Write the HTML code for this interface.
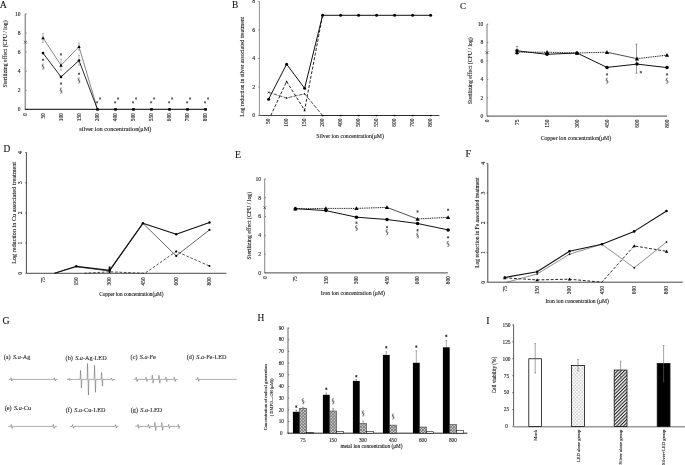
<!DOCTYPE html>
<html><head><meta charset="utf-8"><title>Figure</title>
<style>
html,body{margin:0;padding:0;background:#fff;}
body{width:685px;height:465px;overflow:hidden;}
svg{display:block;will-change:transform;}
text{font-family:"Liberation Serif", serif;stroke:#000;stroke-width:0.18px;stroke-opacity:0.55;}
</style></head>
<body>
<svg width="685" height="465" viewBox="0 0 685 465">
<defs>
<pattern id="xh" width="2.2" height="2.2" patternUnits="userSpaceOnUse" patternTransform="rotate(45)">
<rect width="2.2" height="2.2" fill="#cdcdcd"/><rect width="2.2" height="0.65" fill="#6e6e6e"/><rect width="0.65" height="2.2" fill="#6e6e6e"/>
</pattern>
<pattern id="dots" width="3.4" height="3.4" patternUnits="userSpaceOnUse">
<rect width="3.4" height="3.4" fill="#fff"/><rect x="0.5" y="0.5" width="0.9" height="0.9" fill="#666"/><rect x="2.2" y="2.2" width="0.9" height="0.9" fill="#666"/>
</pattern>
<pattern id="diag" width="2.4" height="2.4" patternUnits="userSpaceOnUse" patternTransform="rotate(45)">
<rect width="2.4" height="2.4" fill="#fff"/><rect width="1.1" height="2.4" fill="#222"/>
</pattern>
</defs>
<rect width="685" height="465" fill="#fff"/>
<text x="-0.2" y="7.6" font-size="9.8" fill="#111">A</text>
<line x1="25.3" y1="13.6" x2="25.3" y2="109.4" stroke="#9a9a9a" stroke-width="1.5"/>
<line x1="25.3" y1="109.4" x2="26.9" y2="109.4" stroke="#666" stroke-width="0.6"/>
<text x="20.6" y="111.3" font-size="5.6" text-anchor="end" fill="#222">0</text>
<line x1="25.3" y1="90.32" x2="26.9" y2="90.32" stroke="#666" stroke-width="0.6"/>
<text x="20.6" y="92.22" font-size="5.6" text-anchor="end" fill="#222">2</text>
<line x1="25.3" y1="71.24" x2="26.9" y2="71.24" stroke="#666" stroke-width="0.6"/>
<text x="20.6" y="73.14" font-size="5.6" text-anchor="end" fill="#222">4</text>
<line x1="25.3" y1="52.16" x2="26.9" y2="52.16" stroke="#666" stroke-width="0.6"/>
<text x="20.6" y="54.06" font-size="5.6" text-anchor="end" fill="#222">6</text>
<line x1="25.3" y1="33.08" x2="26.9" y2="33.08" stroke="#666" stroke-width="0.6"/>
<text x="20.6" y="34.98" font-size="5.6" text-anchor="end" fill="#222">8</text>
<line x1="25.3" y1="14" x2="26.9" y2="14" stroke="#666" stroke-width="0.6"/>
<text x="20.6" y="15.9" font-size="5.6" text-anchor="end" fill="#222">10</text>
<line x1="24.8" y1="109.4" x2="206.8" y2="109.4" stroke="#333" stroke-width="1.1"/>
<text transform="translate(27.34,113.2) rotate(-90)" font-size="5.4" text-anchor="end" fill="#222">0</text>
<text transform="translate(45.34,113.2) rotate(-90)" font-size="5.4" text-anchor="end" fill="#222">50</text>
<text transform="translate(63.34,113.2) rotate(-90)" font-size="5.4" text-anchor="end" fill="#222">100</text>
<text transform="translate(81.34,113.2) rotate(-90)" font-size="5.4" text-anchor="end" fill="#222">150</text>
<text transform="translate(99.34,113.2) rotate(-90)" font-size="5.4" text-anchor="end" fill="#222">200</text>
<text transform="translate(117.34,113.2) rotate(-90)" font-size="5.4" text-anchor="end" fill="#222">400</text>
<text transform="translate(135.34,113.2) rotate(-90)" font-size="5.4" text-anchor="end" fill="#222">500</text>
<text transform="translate(153.34,113.2) rotate(-90)" font-size="5.4" text-anchor="end" fill="#222">550</text>
<text transform="translate(171.34,113.2) rotate(-90)" font-size="5.4" text-anchor="end" fill="#222">600</text>
<text transform="translate(189.34,113.2) rotate(-90)" font-size="5.4" text-anchor="end" fill="#222">700</text>
<text transform="translate(207.34,113.2) rotate(-90)" font-size="5.4" text-anchor="end" fill="#222">800</text>
<text transform="translate(7.17,53.9) rotate(-90)" font-size="5.8" text-anchor="middle" fill="#222">Sterilizing effect (CFU / log)</text>
<text x="115.3" y="131.12" font-size="6.25" text-anchor="middle" fill="#222">silver ion concentration(μM)</text>
<line x1="24.1" y1="40.8" x2="26.9" y2="43.6" stroke="#222" stroke-width="0.6"/>
<line x1="24.1" y1="43.6" x2="26.9" y2="40.8" stroke="#222" stroke-width="0.6"/>
<polyline points="43,37.9 61,65.3 79,46.7 97.5,109.4" fill="none" stroke="#555" stroke-width="0.7" stroke-linejoin="round"/>
<polyline points="43,53.1 61,76.9 79,60.5 97.5,109.4" fill="none" stroke="#111" stroke-width="0.9" stroke-linejoin="round"/>
<line x1="43" y1="33.4" x2="43" y2="42.4" stroke="#777" stroke-width="0.5"/>
<line x1="42" y1="33.4" x2="44" y2="33.4" stroke="#777" stroke-width="0.5"/>
<line x1="42" y1="42.4" x2="44" y2="42.4" stroke="#777" stroke-width="0.5"/>
<line x1="61" y1="59.2" x2="61" y2="70.2" stroke="#777" stroke-width="0.5"/>
<line x1="60" y1="59.2" x2="62" y2="59.2" stroke="#777" stroke-width="0.5"/>
<line x1="60" y1="70.2" x2="62" y2="70.2" stroke="#777" stroke-width="0.5"/>
<line x1="79" y1="43.2" x2="79" y2="50" stroke="#777" stroke-width="0.5"/>
<line x1="78" y1="43.2" x2="80" y2="43.2" stroke="#777" stroke-width="0.5"/>
<line x1="78" y1="50" x2="80" y2="50" stroke="#777" stroke-width="0.5"/>
<line x1="79" y1="55.3" x2="79" y2="65" stroke="#777" stroke-width="0.5"/>
<line x1="78" y1="55.3" x2="80" y2="55.3" stroke="#777" stroke-width="0.5"/>
<line x1="78" y1="65" x2="80" y2="65" stroke="#777" stroke-width="0.5"/>
<path d="M43,36.2L44.7,39.26L41.3,39.26Z" fill="#000"/>
<path d="M61,63.6L62.7,66.66L59.3,66.66Z" fill="#000"/>
<path d="M79,45L80.7,48.06L77.3,48.06Z" fill="#000"/>
<circle cx="43" cy="53.1" r="1.35" fill="#000"/>
<circle cx="61" cy="76.9" r="1.35" fill="#000"/>
<circle cx="79" cy="60.5" r="1.35" fill="#000"/>
<rect x="96.2" y="108.1" width="2.6" height="2.6" fill="#000"/>
<rect x="114.2" y="108.1" width="2.6" height="2.6" fill="#000"/>
<rect x="132.2" y="108.1" width="2.6" height="2.6" fill="#000"/>
<rect x="150.2" y="108.1" width="2.6" height="2.6" fill="#000"/>
<rect x="168.2" y="108.1" width="2.6" height="2.6" fill="#000"/>
<rect x="186.2" y="108.1" width="2.6" height="2.6" fill="#000"/>
<rect x="204.2" y="108.1" width="2.6" height="2.6" fill="#000"/>
<path d="M43,58.54L43,61.06M41.91,59.17L44.09,60.43M41.91,60.43L44.09,59.17" stroke="#444" stroke-width="0.75" fill="none"/>
<path d="M43.9,64.3C43.3,63.8 42,64 42.1,65C42.2,65.9 44,66.1 44,67.1C44,67.7 43.3,67.9 42.8,67.6M42.1,68.9C42.7,69.4 44,69.2 43.9,68.2C43.8,67.3 42,67.1 42,66.1C42,65.5 42.7,65.3 43.2,65.6" fill="none" stroke="#333" stroke-width="0.6"/>
<path d="M61,53.14L61,55.66M59.91,53.77L62.09,55.03M59.91,55.03L62.09,53.77" stroke="#444" stroke-width="0.75" fill="none"/>
<path d="M61,82.34L61,84.86M59.91,82.97L62.09,84.23M59.91,84.23L62.09,82.97" stroke="#444" stroke-width="0.75" fill="none"/>
<path d="M61.9,88.4C61.3,87.9 60,88.1 60.1,89.1C60.2,90 62,90.2 62,91.2C62,91.8 61.3,92 60.8,91.7M60.1,93C60.7,93.5 62,93.3 61.9,92.3C61.8,91.4 60,91.2 60,90.2C60,89.6 60.7,89.4 61.2,89.7" fill="none" stroke="#333" stroke-width="0.6"/>
<path d="M79,72.54L79,75.06M77.91,73.17L80.09,74.43M77.91,74.43L80.09,73.17" stroke="#444" stroke-width="0.75" fill="none"/>
<path d="M79.9,78.2C79.3,77.7 78,77.9 78.1,78.9C78.2,79.8 80,80 80,81C80,81.6 79.3,81.8 78.8,81.5M78.1,82.8C78.7,83.3 80,83.1 79.9,82.1C79.8,81.2 78,81 78,80C78,79.4 78.7,79.2 79.2,79.5" fill="none" stroke="#333" stroke-width="0.6"/>
<path d="M97.1,101.07L97.1,103.53M96.03,101.68L98.17,102.92M96.03,102.92L98.17,101.68" stroke="#555" stroke-width="0.75" fill="none"/>
<path d="M100.1,97.27L100.1,99.73M99.03,97.88L101.17,99.12M99.03,99.12L101.17,97.88" stroke="#555" stroke-width="0.75" fill="none"/>
<path d="M115.1,101.07L115.1,103.53M114.03,101.68L116.17,102.92M114.03,102.92L116.17,101.68" stroke="#555" stroke-width="0.75" fill="none"/>
<path d="M118.1,97.27L118.1,99.73M117.03,97.88L119.17,99.12M117.03,99.12L119.17,97.88" stroke="#555" stroke-width="0.75" fill="none"/>
<path d="M133.1,101.07L133.1,103.53M132.03,101.68L134.17,102.92M132.03,102.92L134.17,101.68" stroke="#555" stroke-width="0.75" fill="none"/>
<path d="M136.1,97.27L136.1,99.73M135.03,97.88L137.17,99.12M135.03,99.12L137.17,97.88" stroke="#555" stroke-width="0.75" fill="none"/>
<path d="M151.1,101.07L151.1,103.53M150.03,101.68L152.17,102.92M150.03,102.92L152.17,101.68" stroke="#555" stroke-width="0.75" fill="none"/>
<path d="M154.1,97.27L154.1,99.73M153.03,97.88L155.17,99.12M153.03,99.12L155.17,97.88" stroke="#555" stroke-width="0.75" fill="none"/>
<path d="M169.1,101.07L169.1,103.53M168.03,101.68L170.17,102.92M168.03,102.92L170.17,101.68" stroke="#555" stroke-width="0.75" fill="none"/>
<path d="M172.1,97.27L172.1,99.73M171.03,97.88L173.17,99.12M171.03,99.12L173.17,97.88" stroke="#555" stroke-width="0.75" fill="none"/>
<path d="M187.1,101.07L187.1,103.53M186.03,101.68L188.17,102.92M186.03,102.92L188.17,101.68" stroke="#555" stroke-width="0.75" fill="none"/>
<path d="M190.1,97.27L190.1,99.73M189.03,97.88L191.17,99.12M189.03,99.12L191.17,97.88" stroke="#555" stroke-width="0.75" fill="none"/>
<path d="M205.1,101.07L205.1,103.53M204.03,101.68L206.17,102.92M204.03,102.92L206.17,101.68" stroke="#555" stroke-width="0.75" fill="none"/>
<path d="M208.1,97.27L208.1,99.73M207.03,97.88L209.17,99.12M207.03,99.12L209.17,97.88" stroke="#555" stroke-width="0.75" fill="none"/>
<text x="232.1" y="7.8" font-size="9.4" fill="#111">B</text>
<line x1="259.4" y1="1.5" x2="259.4" y2="115.5" stroke="#777" stroke-width="0.8"/>
<line x1="258.1" y1="115.5" x2="259.4" y2="115.5" stroke="#555" stroke-width="0.6"/>
<text x="253.6" y="117.47" font-size="5.8" text-anchor="middle" fill="#222">0</text>
<line x1="258.1" y1="87" x2="259.4" y2="87" stroke="#555" stroke-width="0.6"/>
<text x="253.6" y="88.97" font-size="5.8" text-anchor="middle" fill="#222">2</text>
<line x1="258.1" y1="58.5" x2="259.4" y2="58.5" stroke="#555" stroke-width="0.6"/>
<text x="253.6" y="60.47" font-size="5.8" text-anchor="middle" fill="#222">4</text>
<line x1="258.1" y1="30" x2="259.4" y2="30" stroke="#555" stroke-width="0.6"/>
<text x="253.6" y="31.97" font-size="5.8" text-anchor="middle" fill="#222">6</text>
<line x1="258.1" y1="1.5" x2="259.4" y2="1.5" stroke="#555" stroke-width="0.6"/>
<text x="253.6" y="3.47" font-size="5.8" text-anchor="middle" fill="#222">8</text>
<line x1="259.4" y1="115.5" x2="439.5" y2="115.5" stroke="#333" stroke-width="0.9"/>
<line x1="268.6" y1="115.5" x2="268.6" y2="116.7" stroke="#555" stroke-width="0.5"/>
<text transform="translate(270.44,118.6) rotate(-90)" font-size="5.4" text-anchor="end" fill="#222">50</text>
<line x1="286.6" y1="115.5" x2="286.6" y2="116.7" stroke="#555" stroke-width="0.5"/>
<text transform="translate(288.44,118.6) rotate(-90)" font-size="5.4" text-anchor="end" fill="#222">100</text>
<line x1="304.6" y1="115.5" x2="304.6" y2="116.7" stroke="#555" stroke-width="0.5"/>
<text transform="translate(306.44,118.6) rotate(-90)" font-size="5.4" text-anchor="end" fill="#222">150</text>
<line x1="322.6" y1="115.5" x2="322.6" y2="116.7" stroke="#555" stroke-width="0.5"/>
<text transform="translate(324.44,118.6) rotate(-90)" font-size="5.4" text-anchor="end" fill="#222">200</text>
<line x1="340.6" y1="115.5" x2="340.6" y2="116.7" stroke="#555" stroke-width="0.5"/>
<text transform="translate(342.44,118.6) rotate(-90)" font-size="5.4" text-anchor="end" fill="#222">400</text>
<line x1="358.6" y1="115.5" x2="358.6" y2="116.7" stroke="#555" stroke-width="0.5"/>
<text transform="translate(360.44,118.6) rotate(-90)" font-size="5.4" text-anchor="end" fill="#222">500</text>
<line x1="376.6" y1="115.5" x2="376.6" y2="116.7" stroke="#555" stroke-width="0.5"/>
<text transform="translate(378.44,118.6) rotate(-90)" font-size="5.4" text-anchor="end" fill="#222">550</text>
<line x1="394.6" y1="115.5" x2="394.6" y2="116.7" stroke="#555" stroke-width="0.5"/>
<text transform="translate(396.44,118.6) rotate(-90)" font-size="5.4" text-anchor="end" fill="#222">600</text>
<line x1="412.6" y1="115.5" x2="412.6" y2="116.7" stroke="#555" stroke-width="0.5"/>
<text transform="translate(414.44,118.6) rotate(-90)" font-size="5.4" text-anchor="end" fill="#222">700</text>
<line x1="430.6" y1="115.5" x2="430.6" y2="116.7" stroke="#555" stroke-width="0.5"/>
<text transform="translate(432.44,118.6) rotate(-90)" font-size="5.4" text-anchor="end" fill="#222">800</text>
<text transform="translate(243.74,66.8) rotate(-90)" font-size="5.71" text-anchor="middle" fill="#222">Log reduction in silver associated treatment</text>
<text x="350.1" y="138.06" font-size="5.77" text-anchor="middle" fill="#222">Silver ion concentration(μM)</text>
<polyline points="268.6,92.4 286.6,98 304.6,93.8 322.6,115.5" fill="none" stroke="#222" stroke-width="0.75" stroke-linejoin="round" stroke-dasharray="4,1.2"/>
<polyline points="322.6,115.5 340.6,115.5 358.6,115.5 376.6,115.5 394.6,115.5 412.6,115.5 430.6,115.5" fill="none" stroke="#222" stroke-width="0.8" stroke-linejoin="round"/>
<polyline points="270.8,115.5 286.6,81.5 304.6,110.2 322.6,15.3" fill="none" stroke="#111" stroke-width="0.9" stroke-linejoin="round" stroke-dasharray="3,1.7"/>
<polyline points="268.6,99.2 286.6,64.2 304.6,88.3 322.6,15.3 340.6,15.3 358.6,15.3 376.6,15.3 394.6,15.3 412.6,15.3 430.6,15.3" fill="none" stroke="#111" stroke-width="1" stroke-linejoin="round"/>
<circle cx="268.6" cy="99.2" r="1.5" fill="#000"/>
<circle cx="286.6" cy="64.2" r="1.5" fill="#000"/>
<circle cx="304.6" cy="88.3" r="1.5" fill="#000"/>
<circle cx="322.6" cy="15.3" r="1.5" fill="#000"/>
<circle cx="340.6" cy="15.3" r="1.5" fill="#000"/>
<circle cx="358.6" cy="15.3" r="1.5" fill="#000"/>
<circle cx="376.6" cy="15.3" r="1.5" fill="#000"/>
<circle cx="394.6" cy="15.3" r="1.5" fill="#000"/>
<circle cx="412.6" cy="15.3" r="1.5" fill="#000"/>
<circle cx="430.6" cy="15.3" r="1.5" fill="#000"/>
<path d="M286.6,80.3L287.8,82.46L285.4,82.46Z" fill="#000"/>
<path d="M304.6,109L305.8,111.16L303.4,111.16Z" fill="#000"/>
<path d="M286.6,97L287.6,98.8L285.6,98.8Z" fill="#000"/>
<path d="M304.6,92.8L305.6,94.6L303.6,94.6Z" fill="#000"/>
<line x1="267.6" y1="91.4" x2="269.6" y2="93.4" stroke="#111" stroke-width="0.6"/>
<line x1="267.6" y1="93.4" x2="269.6" y2="91.4" stroke="#111" stroke-width="0.6"/>
<line x1="321.6" y1="115.5" x2="323.6" y2="115.5" stroke="#000" stroke-width="1.2"/>
<line x1="339.6" y1="115.5" x2="341.6" y2="115.5" stroke="#000" stroke-width="1.2"/>
<line x1="357.6" y1="115.5" x2="359.6" y2="115.5" stroke="#000" stroke-width="1.2"/>
<line x1="375.6" y1="115.5" x2="377.6" y2="115.5" stroke="#000" stroke-width="1.2"/>
<line x1="393.6" y1="115.5" x2="395.6" y2="115.5" stroke="#000" stroke-width="1.2"/>
<line x1="411.6" y1="115.5" x2="413.6" y2="115.5" stroke="#000" stroke-width="1.2"/>
<line x1="429.6" y1="115.5" x2="431.6" y2="115.5" stroke="#000" stroke-width="1.2"/>
<text x="459.9" y="8.7" font-size="9.1" fill="#111">C</text>
<line x1="487" y1="24" x2="487" y2="116.1" stroke="#555" stroke-width="0.8"/>
<line x1="487" y1="116.1" x2="488.3" y2="116.1" stroke="#555" stroke-width="0.6"/>
<text x="483.4" y="118" font-size="5.6" text-anchor="end" fill="#222">0</text>
<line x1="487" y1="97.7" x2="488.3" y2="97.7" stroke="#555" stroke-width="0.6"/>
<text x="483.4" y="99.6" font-size="5.6" text-anchor="end" fill="#222">2</text>
<line x1="487" y1="79.3" x2="488.3" y2="79.3" stroke="#555" stroke-width="0.6"/>
<text x="483.4" y="81.2" font-size="5.6" text-anchor="end" fill="#222">4</text>
<line x1="487" y1="60.9" x2="488.3" y2="60.9" stroke="#555" stroke-width="0.6"/>
<text x="483.4" y="62.8" font-size="5.6" text-anchor="end" fill="#222">6</text>
<line x1="487" y1="42.5" x2="488.3" y2="42.5" stroke="#555" stroke-width="0.6"/>
<text x="483.4" y="44.4" font-size="5.6" text-anchor="end" fill="#222">8</text>
<line x1="487" y1="24.1" x2="488.3" y2="24.1" stroke="#555" stroke-width="0.6"/>
<text x="483.4" y="26" font-size="5.6" text-anchor="end" fill="#222">10</text>
<line x1="487" y1="116.1" x2="667" y2="116.1" stroke="#333" stroke-width="0.9"/>
<text transform="translate(488.84,119.6) rotate(-90)" font-size="5.4" text-anchor="end" fill="#222">0</text>
<text transform="translate(518.84,119.6) rotate(-90)" font-size="5.4" text-anchor="end" fill="#222">75</text>
<text transform="translate(548.84,119.6) rotate(-90)" font-size="5.4" text-anchor="end" fill="#222">150</text>
<text transform="translate(578.84,119.6) rotate(-90)" font-size="5.4" text-anchor="end" fill="#222">300</text>
<text transform="translate(608.84,119.6) rotate(-90)" font-size="5.4" text-anchor="end" fill="#222">450</text>
<text transform="translate(638.84,119.6) rotate(-90)" font-size="5.4" text-anchor="end" fill="#222">600</text>
<text transform="translate(668.84,119.6) rotate(-90)" font-size="5.4" text-anchor="end" fill="#222">800</text>
<text transform="translate(471.57,70.75) rotate(-90)" font-size="5.79" text-anchor="middle" fill="#222">Sterilizing effect (CFU / log)</text>
<text x="575.9" y="139.96" font-size="5.76" text-anchor="middle" fill="#222">Copper ion concentration(μM)</text>
<line x1="485.6" y1="51.3" x2="488.4" y2="54.1" stroke="#222" stroke-width="0.6"/>
<line x1="485.6" y1="54.1" x2="488.4" y2="51.3" stroke="#222" stroke-width="0.6"/>
<line x1="517" y1="46.4" x2="517" y2="54.6" stroke="#444" stroke-width="0.5"/>
<line x1="516" y1="46.4" x2="518" y2="46.4" stroke="#444" stroke-width="0.5"/>
<line x1="516" y1="54.6" x2="518" y2="54.6" stroke="#444" stroke-width="0.5"/>
<line x1="636.5" y1="44.1" x2="636.5" y2="73.2" stroke="#555" stroke-width="0.6"/>
<line x1="635.5" y1="44.1" x2="637.5" y2="44.1" stroke="#555" stroke-width="0.6"/>
<line x1="635.5" y1="73.2" x2="637.5" y2="73.2" stroke="#555" stroke-width="0.6"/>
<polyline points="517,50.8 547,54.3 577,53 607,67.4 637,64.1 667,67.6" fill="none" stroke="#111" stroke-width="1" stroke-linejoin="round"/>
<polyline points="517,52.2 547,52.2 577,53 607,52.2" fill="none" stroke="#111" stroke-width="1" stroke-linejoin="round" stroke-dasharray="1,0.8"/>
<polyline points="607,52.2 637,58.7" fill="none" stroke="#222" stroke-width="0.8" stroke-linejoin="round"/>
<polyline points="637,58.7 667,55.1" fill="none" stroke="#111" stroke-width="1" stroke-linejoin="round" stroke-dasharray="1,0.8"/>
<circle cx="517" cy="50.8" r="1.75" fill="#000"/>
<circle cx="547" cy="54.3" r="1.75" fill="#000"/>
<circle cx="577" cy="53" r="1.75" fill="#000"/>
<circle cx="607" cy="67.4" r="1.75" fill="#000"/>
<circle cx="637" cy="64.1" r="1.75" fill="#000"/>
<circle cx="667" cy="67.6" r="1.75" fill="#000"/>
<path d="M517,50.1L519.1,53.88L514.9,53.88Z" fill="#000"/>
<path d="M547,50.1L549.1,53.88L544.9,53.88Z" fill="#000"/>
<path d="M577,50.9L579.1,54.68L574.9,54.68Z" fill="#000"/>
<path d="M607,50.1L609.1,53.88L604.9,53.88Z" fill="#000"/>
<path d="M637,56.6L639.1,60.38L634.9,60.38Z" fill="#000"/>
<path d="M667,53L669.1,56.78L664.9,56.78Z" fill="#000"/>
<path d="M607,73.14L607,75.66M605.91,73.77L608.09,75.03M605.91,75.03L608.09,73.77" stroke="#444" stroke-width="0.75" fill="none"/>
<path d="M607.9,78.5C607.3,78 606,78.2 606.1,79.2C606.2,80.1 608,80.3 608,81.3C608,81.9 607.3,82.1 606.8,81.8M606.1,83.1C606.7,83.6 608,83.4 607.9,82.4C607.8,81.5 606,81.3 606,80.3C606,79.7 606.7,79.5 607.2,79.8" fill="none" stroke="#333" stroke-width="0.6"/>
<path d="M640.8,70.84L640.8,73.36M639.71,71.47L641.89,72.73M639.71,72.73L641.89,71.47" stroke="#444" stroke-width="0.75" fill="none"/>
<path d="M667,73.14L667,75.66M665.91,73.77L668.09,75.03M665.91,75.03L668.09,73.77" stroke="#444" stroke-width="0.75" fill="none"/>
<path d="M667.9,78.5C667.3,78 666,78.2 666.1,79.2C666.2,80.1 668,80.3 668,81.3C668,81.9 667.3,82.1 666.8,81.8M666.1,83.1C666.7,83.6 668,83.4 667.9,82.4C667.8,81.5 666,81.3 666,80.3C666,79.7 666.7,79.5 667.2,79.8" fill="none" stroke="#333" stroke-width="0.6"/>
<text x="3.5" y="152.4" font-size="9.4" fill="#111">D</text>
<line x1="26.4" y1="152.4" x2="26.4" y2="273.3" stroke="#333" stroke-width="0.9"/>
<line x1="25.1" y1="273.3" x2="26.4" y2="273.3" stroke="#333" stroke-width="0.6"/>
<text transform="translate(22.27,273.3) rotate(-90)" font-size="5.8" text-anchor="middle" fill="#111">0</text>
<line x1="25.1" y1="243.1" x2="26.4" y2="243.1" stroke="#333" stroke-width="0.6"/>
<text transform="translate(22.27,243.1) rotate(-90)" font-size="5.8" text-anchor="middle" fill="#111">1</text>
<line x1="25.1" y1="212.9" x2="26.4" y2="212.9" stroke="#333" stroke-width="0.6"/>
<text transform="translate(22.27,212.9) rotate(-90)" font-size="5.8" text-anchor="middle" fill="#111">2</text>
<line x1="25.1" y1="182.7" x2="26.4" y2="182.7" stroke="#333" stroke-width="0.6"/>
<text transform="translate(22.27,182.7) rotate(-90)" font-size="5.8" text-anchor="middle" fill="#111">3</text>
<line x1="25.1" y1="152.5" x2="26.4" y2="152.5" stroke="#333" stroke-width="0.6"/>
<text transform="translate(22.27,152.5) rotate(-90)" font-size="5.8" text-anchor="middle" fill="#111">4</text>
<line x1="26.4" y1="273.3" x2="226.4" y2="273.3" stroke="#333" stroke-width="0.9"/>
<text transform="translate(44.84,277.3) rotate(-90)" font-size="5.4" text-anchor="end" fill="#222">75</text>
<text transform="translate(78.14,277.3) rotate(-90)" font-size="5.4" text-anchor="end" fill="#222">150</text>
<text transform="translate(111.44,277.3) rotate(-90)" font-size="5.4" text-anchor="end" fill="#222">300</text>
<text transform="translate(144.74,277.3) rotate(-90)" font-size="5.4" text-anchor="end" fill="#222">450</text>
<text transform="translate(178.04,277.3) rotate(-90)" font-size="5.4" text-anchor="end" fill="#222">600</text>
<text transform="translate(211.34,277.3) rotate(-90)" font-size="5.4" text-anchor="end" fill="#222">800</text>
<text transform="translate(16.11,212.9) rotate(-90)" font-size="6.2" text-anchor="middle" fill="#222">Log reduction in Cu associated treatment</text>
<text x="131.3" y="296.49" font-size="5.25" text-anchor="middle" fill="#222">Copper ion concentration(μM)</text>
<polyline points="84.3,273.3 109.6,271.8 144.9,273.3 176.2,251.4 209.5,266" fill="none" stroke="#222" stroke-width="0.8" stroke-linejoin="round" stroke-dasharray="2.6,1.8"/>
<polyline points="54.5,273.3 76.3,266.8 109.6,271 142.9,223.3 176.2,255.9 209.5,229.9" fill="none" stroke="#222" stroke-width="0.7" stroke-linejoin="round"/>
<polyline points="54.5,273.3 76.3,266.3 109.6,270.3 142.9,223.3 176.2,234.3 209.5,222.5" fill="none" stroke="#111" stroke-width="1.2" stroke-linejoin="round"/>
<circle cx="76.3" cy="266.3" r="1.2" fill="#000"/>
<circle cx="109.6" cy="270.3" r="1.2" fill="#000"/>
<circle cx="142.9" cy="223.3" r="1.2" fill="#000"/>
<circle cx="176.2" cy="234.3" r="1.2" fill="#000"/>
<circle cx="209.5" cy="222.5" r="1.2" fill="#000"/>
<circle cx="176.2" cy="255.9" r="1.1" fill="#000"/>
<circle cx="209.5" cy="229.9" r="1.1" fill="#000"/>
<path d="M176.2,250.1L177.5,251.4L176.2,252.7L174.9,251.4Z" fill="#000"/>
<circle cx="209.5" cy="266" r="1" fill="#000"/>
<rect x="108.7" y="266.5" width="1.8" height="6.5" fill="#000"/>
<text x="235.1" y="157.5" font-size="9.8" fill="#111">E</text>
<line x1="264.7" y1="178.8" x2="264.7" y2="272.9" stroke="#666" stroke-width="0.8"/>
<line x1="264.7" y1="272.9" x2="266" y2="272.9" stroke="#555" stroke-width="0.6"/>
<text x="261" y="274.8" font-size="5.6" text-anchor="end" fill="#222">0</text>
<line x1="264.7" y1="254.1" x2="266" y2="254.1" stroke="#555" stroke-width="0.6"/>
<text x="261" y="256" font-size="5.6" text-anchor="end" fill="#222">2</text>
<line x1="264.7" y1="235.3" x2="266" y2="235.3" stroke="#555" stroke-width="0.6"/>
<text x="261" y="237.2" font-size="5.6" text-anchor="end" fill="#222">4</text>
<line x1="264.7" y1="216.5" x2="266" y2="216.5" stroke="#555" stroke-width="0.6"/>
<text x="261" y="218.4" font-size="5.6" text-anchor="end" fill="#222">6</text>
<line x1="264.7" y1="197.7" x2="266" y2="197.7" stroke="#555" stroke-width="0.6"/>
<text x="261" y="199.6" font-size="5.6" text-anchor="end" fill="#222">8</text>
<line x1="264.7" y1="178.9" x2="266" y2="178.9" stroke="#555" stroke-width="0.6"/>
<text x="261" y="180.8" font-size="5.6" text-anchor="end" fill="#222">10</text>
<line x1="264.7" y1="272.9" x2="447.9" y2="272.9" stroke="#333" stroke-width="0.9"/>
<text transform="translate(266.64,276.2) rotate(-90)" font-size="5.4" text-anchor="end" fill="#222">0</text>
<text transform="translate(297.19,276.2) rotate(-90)" font-size="5.4" text-anchor="end" fill="#222">75</text>
<text transform="translate(327.74,276.2) rotate(-90)" font-size="5.4" text-anchor="end" fill="#222">150</text>
<text transform="translate(358.29,276.2) rotate(-90)" font-size="5.4" text-anchor="end" fill="#222">300</text>
<text transform="translate(388.84,276.2) rotate(-90)" font-size="5.4" text-anchor="end" fill="#222">450</text>
<text transform="translate(419.39,276.2) rotate(-90)" font-size="5.4" text-anchor="end" fill="#222">600</text>
<text transform="translate(449.94,276.2) rotate(-90)" font-size="5.4" text-anchor="end" fill="#222">800</text>
<text transform="translate(250.68,225.6) rotate(-90)" font-size="5.83" text-anchor="middle" fill="#222">Sterilizing effect (CFU / log)</text>
<text x="352.8" y="294.64" font-size="5.72" text-anchor="middle" fill="#222">Iron ion concentration (μM)</text>
<line x1="263.3" y1="206.3" x2="266.1" y2="209.1" stroke="#222" stroke-width="0.6"/>
<line x1="263.3" y1="209.1" x2="266.1" y2="206.3" stroke="#222" stroke-width="0.6"/>
<polyline points="295.35,208.7 325.9,210.6 356.45,217.2 387,219.5 417.55,223.5 448.1,229.9" fill="none" stroke="#111" stroke-width="1" stroke-linejoin="round"/>
<polyline points="295.35,208.7 325.9,208.4 356.45,208.4 387,207.4" fill="none" stroke="#111" stroke-width="1" stroke-linejoin="round" stroke-dasharray="1,0.8"/>
<polyline points="387,207.4 417.55,219" fill="none" stroke="#222" stroke-width="0.8" stroke-linejoin="round"/>
<polyline points="417.55,219 448.1,217.3" fill="none" stroke="#111" stroke-width="1" stroke-linejoin="round" stroke-dasharray="1,0.8"/>
<circle cx="295.35" cy="208.7" r="1.75" fill="#000"/>
<circle cx="325.9" cy="210.6" r="1.75" fill="#000"/>
<circle cx="356.45" cy="217.2" r="1.75" fill="#000"/>
<circle cx="387" cy="219.5" r="1.75" fill="#000"/>
<circle cx="417.55" cy="223.5" r="1.75" fill="#000"/>
<circle cx="448.1" cy="229.9" r="1.75" fill="#000"/>
<path d="M295.35,206.6L297.45,210.38L293.25,210.38Z" fill="#000"/>
<path d="M325.9,206.3L328,210.08L323.8,210.08Z" fill="#000"/>
<path d="M356.45,206.3L358.55,210.08L354.35,210.08Z" fill="#000"/>
<path d="M387,205.3L389.1,209.08L384.9,209.08Z" fill="#000"/>
<path d="M417.55,216.9L419.65,220.68L415.45,220.68Z" fill="#000"/>
<path d="M448.1,215.2L450.2,218.98L446,218.98Z" fill="#000"/>
<path d="M356.45,221.44L356.45,223.96M355.36,222.07L357.54,223.33M355.36,223.33L357.54,222.07" stroke="#444" stroke-width="0.75" fill="none"/>
<path d="M357.35,225.7C356.75,225.2 355.45,225.4 355.55,226.4C355.65,227.3 357.45,227.5 357.45,228.5C357.45,229.1 356.75,229.3 356.25,229M355.55,230.3C356.15,230.8 357.45,230.6 357.35,229.6C357.25,228.7 355.45,228.5 355.45,227.5C355.45,226.9 356.15,226.7 356.65,227" fill="none" stroke="#333" stroke-width="0.6"/>
<path d="M387,225.94L387,228.46M385.91,226.57L388.09,227.83M385.91,227.83L388.09,226.57" stroke="#444" stroke-width="0.75" fill="none"/>
<path d="M387.9,229.9C387.3,229.4 386,229.6 386.1,230.6C386.2,231.5 388,231.7 388,232.7C388,233.3 387.3,233.5 386.8,233.2M386.1,234.5C386.7,235 388,234.8 387.9,233.8C387.8,232.9 386,232.7 386,231.7C386,231.1 386.7,230.9 387.2,231.2" fill="none" stroke="#333" stroke-width="0.6"/>
<path d="M417.55,210.24L417.55,212.76M416.46,210.87L418.64,212.13M416.46,212.13L418.64,210.87" stroke="#444" stroke-width="0.75" fill="none"/>
<path d="M417.55,229.04L417.55,231.56M416.46,229.67L418.64,230.93M416.46,230.93L418.64,229.67" stroke="#444" stroke-width="0.75" fill="none"/>
<path d="M418.45,233.2C417.85,232.7 416.55,232.9 416.65,233.9C416.75,234.8 418.55,235 418.55,236C418.55,236.6 417.85,236.8 417.35,236.5M416.65,237.8C417.25,238.3 418.55,238.1 418.45,237.1C418.35,236.2 416.55,236 416.55,235C416.55,234.4 417.25,234.2 417.75,234.5" fill="none" stroke="#333" stroke-width="0.6"/>
<path d="M448.1,208.54L448.1,211.06M447.01,209.17L449.19,210.43M447.01,210.43L449.19,209.17" stroke="#444" stroke-width="0.75" fill="none"/>
<path d="M448.1,236.04L448.1,238.56M447.01,236.67L449.19,237.93M447.01,237.93L449.19,236.67" stroke="#444" stroke-width="0.75" fill="none"/>
<path d="M449,241.6C448.4,241.1 447.1,241.3 447.2,242.3C447.3,243.2 449.1,243.4 449.1,244.4C449.1,245 448.4,245.2 447.9,244.9M447.2,246.2C447.8,246.7 449.1,246.5 449,245.5C448.9,244.6 447.1,244.4 447.1,243.4C447.1,242.8 447.8,242.6 448.3,242.9" fill="none" stroke="#333" stroke-width="0.6"/>
<text x="465.4" y="156.5" font-size="10" fill="#111">F</text>
<line x1="487.8" y1="163.3" x2="487.8" y2="282.2" stroke="#333" stroke-width="0.9"/>
<line x1="486.5" y1="282.2" x2="487.8" y2="282.2" stroke="#333" stroke-width="0.6"/>
<text transform="translate(484.97,282.2) rotate(-90)" font-size="5.8" text-anchor="middle" fill="#111">0</text>
<line x1="486.5" y1="252.5" x2="487.8" y2="252.5" stroke="#333" stroke-width="0.6"/>
<text transform="translate(484.97,252.5) rotate(-90)" font-size="5.8" text-anchor="middle" fill="#111">1</text>
<line x1="486.5" y1="222.8" x2="487.8" y2="222.8" stroke="#333" stroke-width="0.6"/>
<text transform="translate(484.97,222.8) rotate(-90)" font-size="5.8" text-anchor="middle" fill="#111">2</text>
<line x1="486.5" y1="193.1" x2="487.8" y2="193.1" stroke="#333" stroke-width="0.6"/>
<text transform="translate(484.97,193.1) rotate(-90)" font-size="5.8" text-anchor="middle" fill="#111">3</text>
<line x1="486.5" y1="163.4" x2="487.8" y2="163.4" stroke="#333" stroke-width="0.6"/>
<text transform="translate(484.97,163.4) rotate(-90)" font-size="5.8" text-anchor="middle" fill="#111">4</text>
<line x1="487.8" y1="282.2" x2="682.8" y2="282.2" stroke="#333" stroke-width="0.9"/>
<text transform="translate(506.64,286.1) rotate(-90)" font-size="5.4" text-anchor="end" fill="#222">75</text>
<text transform="translate(538.99,286.1) rotate(-90)" font-size="5.4" text-anchor="end" fill="#222">150</text>
<text transform="translate(571.34,286.1) rotate(-90)" font-size="5.4" text-anchor="end" fill="#222">300</text>
<text transform="translate(603.69,286.1) rotate(-90)" font-size="5.4" text-anchor="end" fill="#222">450</text>
<text transform="translate(636.04,286.1) rotate(-90)" font-size="5.4" text-anchor="end" fill="#222">600</text>
<text transform="translate(668.39,286.1) rotate(-90)" font-size="5.4" text-anchor="end" fill="#222">800</text>
<text transform="translate(479.49,222.6) rotate(-90)" font-size="5.55" text-anchor="middle" fill="#222">Log reduction in Fe associated treatment</text>
<text x="577.2" y="302.63" font-size="5.67" text-anchor="middle" fill="#222">Iron ion concentration (μM)</text>
<polyline points="504.8,277.8 537.15,279.9 569.5,279.2 601.85,282.2 634.2,245.9 666.55,251.3" fill="none" stroke="#111" stroke-width="0.9" stroke-linejoin="round" stroke-dasharray="2.8,1.8"/>
<polyline points="506.8,282.2 537.15,274 569.5,254.2 601.85,244.2 634.2,267.8 666.55,242" fill="none" stroke="#444" stroke-width="0.6" stroke-linejoin="round"/>
<polyline points="504.8,277.5 537.15,271.7 569.5,251.2 601.85,244.2 634.2,231.4 666.55,211" fill="none" stroke="#111" stroke-width="1.1" stroke-linejoin="round"/>
<circle cx="504.8" cy="277.5" r="1.3" fill="#000"/>
<circle cx="537.15" cy="271.7" r="1.3" fill="#000"/>
<circle cx="569.5" cy="251.2" r="1.3" fill="#000"/>
<circle cx="601.85" cy="244.2" r="1.3" fill="#000"/>
<circle cx="634.2" cy="231.4" r="1.3" fill="#000"/>
<circle cx="666.55" cy="211" r="1.3" fill="#000"/>
<path d="M537.15,272.9L538.25,274L537.15,275.1L536.05,274Z" fill="#000"/>
<path d="M569.5,253.1L570.6,254.2L569.5,255.3L568.4,254.2Z" fill="#000"/>
<path d="M601.85,243.1L602.95,244.2L601.85,245.3L600.75,244.2Z" fill="#000"/>
<path d="M634.2,266.7L635.3,267.8L634.2,268.9L633.1,267.8Z" fill="#000"/>
<path d="M666.55,240.9L667.65,242L666.55,243.1L665.45,242Z" fill="#000"/>
<path d="M504.8,276.1L506.5,279.16L503.1,279.16Z" fill="#000"/>
<path d="M537.15,278.2L538.85,281.26L535.45,281.26Z" fill="#000"/>
<path d="M569.5,277.5L571.2,280.56L567.8,280.56Z" fill="#000"/>
<path d="M634.2,244.2L635.9,247.26L632.5,247.26Z" fill="#000"/>
<path d="M666.55,249.6L668.25,252.66L664.85,252.66Z" fill="#000"/>
<text x="2.6" y="323.6" font-size="9.8" fill="#111">G</text>
<text x="3.8" y="359.41" font-size="6.2" fill="#333">(a) <tspan dx="0.8" font-style="italic">S.a</tspan>-Ag</text>
<text x="65.6" y="359.71" font-size="6.2" fill="#333">(b) <tspan dx="0.8" font-style="italic">S.a</tspan>-Ag-LED</text>
<text x="130.6" y="358.91" font-size="6.2" fill="#333">(c) <tspan dx="0.8" font-style="italic">S.a</tspan>-Fe</text>
<text x="186.8" y="358.91" font-size="6.2" fill="#333">(d) <tspan dx="0.8" font-style="italic">S.a</tspan>-Fe-LED</text>
<text x="4.8" y="410.11" font-size="6.2" fill="#333">(e) <tspan dx="0.8" font-style="italic">S.a</tspan>-Cu</text>
<text x="65.8" y="411.71" font-size="6.2" fill="#333">(f) <tspan dx="0.8" font-style="italic">S.a</tspan>-Cu-LED</text>
<text x="130.8" y="411.71" font-size="6.2" fill="#333">(g) <tspan dx="0.8" font-style="italic">S.a</tspan>-LED</text>
<path d="M8.6,379.4L10.6,379.4L11.05,377.8L11.95,381L12.4,379.4L53.9,379.4L54.35,377.8L55.25,381L55.7,379.4L57.6,379.4" fill="none" stroke="#666" stroke-width="0.55"/>
<path d="M67,379.4L68.6,379.4L69.05,378.2L69.95,380.6L70.4,379.4L80.1,379.4L80.55,370.3L81.45,388L81.9,379.4L87.1,379.4L87.55,363.5L88.45,395L88.9,379.4L94.1,379.4L94.55,365.2L95.45,392.3L95.9,379.4L101.1,379.4L101.55,372.4L102.45,386.1L102.9,379.4L111.1,379.4L111.55,378.2L112.45,380.6L112.9,379.4L114.8,379.4" fill="none" stroke="#666" stroke-width="0.55"/>
<path d="M133.6,379.4L135.7,379.4L136.15,377.2L137.05,381.6L137.5,379.4L145.6,379.4L146.05,377.2L146.95,381.6L147.4,379.4L151.8,379.4L152.25,375.1L153.15,383.2L153.6,379.4L158.5,379.4L158.95,375.3L159.85,383.2L160.3,379.4L165.5,379.4L165.95,377.2L166.85,381.6L167.3,379.4L173.8,379.4L174.25,377.2L175.15,381.6L175.6,379.4L177.7,379.4" fill="none" stroke="#666" stroke-width="0.55"/>
<path d="M195.4,379.4L197.4,379.4L197.85,377.4L198.75,381.4L199.2,379.4L236.7,379.4" fill="none" stroke="#666" stroke-width="0.55"/>
<path d="M8.2,426.4L10.7,426.4L11.15,424.4L12.05,428.4L12.5,426.4L52.8,426.4L53.25,424.4L54.15,428.4L54.6,426.4L57.1,426.4" fill="none" stroke="#666" stroke-width="0.55"/>
<path d="M70,426.4L72.1,426.4L72.55,424.6L73.45,428.2L73.9,426.4L115.1,426.4L115.55,424.6L116.45,428.2L116.9,426.4L118.4,426.4" fill="none" stroke="#666" stroke-width="0.55"/>
<path d="M135.2,426.4L137.6,426.4L138.05,424.4L138.95,428.4L139.4,426.4L148.1,426.4L148.55,424.4L149.45,428.4L149.9,426.4L154.4,426.4L154.85,422.4L155.75,430.4L156.2,426.4L161.3,426.4L161.75,422.4L162.65,430.4L163.1,426.4L168.2,426.4L168.65,424.4L169.55,428.4L170,426.4L177.7,426.4L178.15,424.4L179.05,428.4L179.5,426.4L180.4,426.4" fill="none" stroke="#666" stroke-width="0.55"/>
<text x="257.4" y="321.4" font-size="9.4" fill="#111">H</text>
<line x1="288" y1="327.6" x2="288" y2="433.2" stroke="#999" stroke-width="1.5"/>
<line x1="288" y1="433.2" x2="289.3" y2="433.2" stroke="#444" stroke-width="0.6"/>
<text x="281.2" y="434.93" font-size="5.1" text-anchor="middle" fill="#222">0</text>
<line x1="288" y1="421.52" x2="289.3" y2="421.52" stroke="#444" stroke-width="0.6"/>
<text x="281.2" y="423.25" font-size="5.1" text-anchor="middle" fill="#222">10</text>
<line x1="288" y1="409.84" x2="289.3" y2="409.84" stroke="#444" stroke-width="0.6"/>
<text x="281.2" y="411.57" font-size="5.1" text-anchor="middle" fill="#222">20</text>
<line x1="288" y1="398.16" x2="289.3" y2="398.16" stroke="#444" stroke-width="0.6"/>
<text x="281.2" y="399.89" font-size="5.1" text-anchor="middle" fill="#222">30</text>
<line x1="288" y1="386.48" x2="289.3" y2="386.48" stroke="#444" stroke-width="0.6"/>
<text x="281.2" y="388.21" font-size="5.1" text-anchor="middle" fill="#222">40</text>
<line x1="288" y1="374.8" x2="289.3" y2="374.8" stroke="#444" stroke-width="0.6"/>
<text x="281.2" y="376.53" font-size="5.1" text-anchor="middle" fill="#222">50</text>
<line x1="288" y1="363.12" x2="289.3" y2="363.12" stroke="#444" stroke-width="0.6"/>
<text x="281.2" y="364.85" font-size="5.1" text-anchor="middle" fill="#222">60</text>
<line x1="288" y1="351.44" x2="289.3" y2="351.44" stroke="#444" stroke-width="0.6"/>
<text x="281.2" y="353.17" font-size="5.1" text-anchor="middle" fill="#222">70</text>
<line x1="288" y1="339.76" x2="289.3" y2="339.76" stroke="#444" stroke-width="0.6"/>
<text x="281.2" y="341.49" font-size="5.1" text-anchor="middle" fill="#222">80</text>
<line x1="288" y1="328.08" x2="289.3" y2="328.08" stroke="#444" stroke-width="0.6"/>
<text x="281.2" y="329.81" font-size="5.1" text-anchor="middle" fill="#222">90</text>
<line x1="287.4" y1="433.2" x2="467.4" y2="433.2" stroke="#222" stroke-width="1"/>
<line x1="296.3" y1="410.2" x2="296.3" y2="411.8" stroke="#555" stroke-width="0.5"/>
<line x1="295.5" y1="410.2" x2="297.1" y2="410.2" stroke="#555" stroke-width="0.5"/>
<line x1="303.1" y1="407.2" x2="303.1" y2="408.2" stroke="#555" stroke-width="0.5"/>
<line x1="302.3" y1="407.2" x2="303.9" y2="407.2" stroke="#555" stroke-width="0.5"/>
<rect x="292.9" y="411.8" width="6.8" height="21.4" fill="#000"/>
<rect x="299.7" y="408.2" width="6.8" height="25" fill="url(#xh)" stroke="#222" stroke-width="0.5"/>
<rect x="306.5" y="432.5" width="6.8" height="0.7" fill="#fff" stroke="#111" stroke-width="0.6"/>
<path d="M296.3,405.37L296.3,407.83M295.23,405.98L297.37,407.22M295.23,407.22L297.37,405.98" stroke="#222" stroke-width="0.75" fill="none"/>
<path d="M304,399C303.4,398.5 302.1,398.7 302.2,399.7C302.3,400.6 304.1,400.8 304.1,401.8C304.1,402.4 303.4,402.6 302.9,402.3M302.2,403.6C302.8,404.1 304.1,403.9 304,402.9C303.9,402 302.1,401.8 302.1,400.8C302.1,400.2 302.8,400 303.3,400.3" fill="none" stroke="#333" stroke-width="0.6"/>
<text x="302.9" y="441.67" font-size="5.2" text-anchor="middle" fill="#222">75</text>
<line x1="326.3" y1="393" x2="326.3" y2="394.8" stroke="#555" stroke-width="0.5"/>
<line x1="325.5" y1="393" x2="327.1" y2="393" stroke="#555" stroke-width="0.5"/>
<line x1="333.1" y1="408.5" x2="333.1" y2="411" stroke="#555" stroke-width="0.5"/>
<line x1="332.3" y1="408.5" x2="333.9" y2="408.5" stroke="#555" stroke-width="0.5"/>
<rect x="322.9" y="394.8" width="6.8" height="38.4" fill="#000"/>
<rect x="329.7" y="411" width="6.8" height="22.2" fill="url(#xh)" stroke="#222" stroke-width="0.5"/>
<rect x="336.5" y="431.4" width="6.8" height="1.8" fill="#fff" stroke="#111" stroke-width="0.6"/>
<path d="M326.3,387.57L326.3,390.03M325.23,388.18L327.37,389.42M325.23,389.42L327.37,388.18" stroke="#222" stroke-width="0.75" fill="none"/>
<path d="M334,399C333.4,398.5 332.1,398.7 332.2,399.7C332.3,400.6 334.1,400.8 334.1,401.8C334.1,402.4 333.4,402.6 332.9,402.3M332.2,403.6C332.8,404.1 334.1,403.9 334,402.9C333.9,402 332.1,401.8 332.1,400.8C332.1,400.2 332.8,400 333.3,400.3" fill="none" stroke="#333" stroke-width="0.6"/>
<text x="332.9" y="441.67" font-size="5.2" text-anchor="middle" fill="#222">150</text>
<line x1="356.3" y1="379.5" x2="356.3" y2="380.9" stroke="#555" stroke-width="0.5"/>
<line x1="355.5" y1="379.5" x2="357.1" y2="379.5" stroke="#555" stroke-width="0.5"/>
<line x1="363.1" y1="421.1" x2="363.1" y2="423.5" stroke="#555" stroke-width="0.5"/>
<line x1="362.3" y1="421.1" x2="363.9" y2="421.1" stroke="#555" stroke-width="0.5"/>
<rect x="352.9" y="380.9" width="6.8" height="52.3" fill="#000"/>
<rect x="359.7" y="423.5" width="6.8" height="9.7" fill="url(#xh)" stroke="#222" stroke-width="0.5"/>
<rect x="366.5" y="431.3" width="6.8" height="1.9" fill="#fff" stroke="#111" stroke-width="0.6"/>
<path d="M356.3,374.97L356.3,377.43M355.23,375.58L357.37,376.82M355.23,376.82L357.37,375.58" stroke="#222" stroke-width="0.75" fill="none"/>
<path d="M364,411.1C363.4,410.6 362.1,410.8 362.2,411.8C362.3,412.7 364.1,412.9 364.1,413.9C364.1,414.5 363.4,414.7 362.9,414.4M362.2,415.7C362.8,416.2 364.1,416 364,415C363.9,414.1 362.1,413.9 362.1,412.9C362.1,412.3 362.8,412.1 363.3,412.4" fill="none" stroke="#333" stroke-width="0.6"/>
<text x="362.9" y="441.67" font-size="5.2" text-anchor="middle" fill="#222">300</text>
<line x1="386.3" y1="351.8" x2="386.3" y2="354.9" stroke="#555" stroke-width="0.5"/>
<line x1="385.5" y1="351.8" x2="387.1" y2="351.8" stroke="#555" stroke-width="0.5"/>
<rect x="382.9" y="354.9" width="6.8" height="78.3" fill="#000"/>
<rect x="389.7" y="425.1" width="6.8" height="8.1" fill="url(#xh)" stroke="#222" stroke-width="0.5"/>
<path d="M386.3,346.07L386.3,348.53M385.23,346.68L387.37,347.92M385.23,347.92L387.37,346.68" stroke="#222" stroke-width="0.75" fill="none"/>
<path d="M394,414.2C393.4,413.7 392.1,413.9 392.2,414.9C392.3,415.8 394.1,416 394.1,417C394.1,417.6 393.4,417.8 392.9,417.5M392.2,418.8C392.8,419.3 394.1,419.1 394,418.1C393.9,417.2 392.1,417 392.1,416C392.1,415.4 392.8,415.2 393.3,415.5" fill="none" stroke="#333" stroke-width="0.6"/>
<text x="392.9" y="441.67" font-size="5.2" text-anchor="middle" fill="#222">450</text>
<line x1="416.3" y1="350.8" x2="416.3" y2="362.8" stroke="#555" stroke-width="0.5"/>
<line x1="415.5" y1="350.8" x2="417.1" y2="350.8" stroke="#555" stroke-width="0.5"/>
<rect x="412.9" y="362.8" width="6.8" height="70.4" fill="#000"/>
<rect x="419.7" y="427" width="6.8" height="6.2" fill="url(#xh)" stroke="#222" stroke-width="0.5"/>
<rect x="426.5" y="431.7" width="6.8" height="1.5" fill="#fff" stroke="#111" stroke-width="0.6"/>
<path d="M416.3,345.37L416.3,347.83M415.23,345.98L417.37,347.22M415.23,347.22L417.37,345.98" stroke="#222" stroke-width="0.75" fill="none"/>
<text x="422.9" y="441.67" font-size="5.2" text-anchor="middle" fill="#222">600</text>
<line x1="446.3" y1="340.6" x2="446.3" y2="347.3" stroke="#555" stroke-width="0.5"/>
<line x1="445.5" y1="340.6" x2="447.1" y2="340.6" stroke="#555" stroke-width="0.5"/>
<rect x="442.9" y="347.3" width="6.8" height="85.9" fill="#000"/>
<rect x="449.7" y="424.6" width="6.8" height="8.6" fill="url(#xh)" stroke="#222" stroke-width="0.5"/>
<rect x="456.5" y="430.5" width="6.8" height="2.7" fill="#fff" stroke="#111" stroke-width="0.6"/>
<path d="M446.3,334.67L446.3,337.13M445.23,335.28L447.37,336.52M445.23,336.52L447.37,335.28" stroke="#222" stroke-width="0.75" fill="none"/>
<text x="452.9" y="441.67" font-size="5.2" text-anchor="middle" fill="#222">800</text>
<text x="371.4" y="447.59" font-size="5.27" text-anchor="middle" fill="#222">metal ion concentration (μM)</text>
<text transform="translate(266.88,397.3) rotate(-90)" font-size="4.66" text-anchor="middle" fill="#222">Concentration of radical generation</text>
<text transform="translate(273.1,397.4) rotate(-90)" font-size="4.4" text-anchor="middle" fill="#222">( DMPO—OH (μM))</text>
<text x="486.3" y="323.7" font-size="9.8" fill="#111">I</text>
<line x1="513.6" y1="324.5" x2="513.6" y2="426.5" stroke="#333" stroke-width="0.8"/>
<line x1="512.2" y1="426.5" x2="513.6" y2="426.5" stroke="#333" stroke-width="0.6"/>
<text x="506.5" y="428.34" font-size="5.4" text-anchor="middle" fill="#222">0</text>
<line x1="512.2" y1="409.57" x2="513.6" y2="409.57" stroke="#333" stroke-width="0.6"/>
<text x="506.5" y="411.4" font-size="5.4" text-anchor="middle" fill="#222">25</text>
<line x1="512.2" y1="392.63" x2="513.6" y2="392.63" stroke="#333" stroke-width="0.6"/>
<text x="506.5" y="394.47" font-size="5.4" text-anchor="middle" fill="#222">50</text>
<line x1="512.2" y1="375.7" x2="513.6" y2="375.7" stroke="#333" stroke-width="0.6"/>
<text x="506.5" y="377.54" font-size="5.4" text-anchor="middle" fill="#222">75</text>
<line x1="512.2" y1="358.77" x2="513.6" y2="358.77" stroke="#333" stroke-width="0.6"/>
<text x="506.5" y="360.61" font-size="5.4" text-anchor="middle" fill="#222">100</text>
<line x1="512.2" y1="341.84" x2="513.6" y2="341.84" stroke="#333" stroke-width="0.6"/>
<text x="506.5" y="343.67" font-size="5.4" text-anchor="middle" fill="#222">125</text>
<line x1="512.2" y1="324.9" x2="513.6" y2="324.9" stroke="#333" stroke-width="0.6"/>
<text x="506.5" y="326.74" font-size="5.4" text-anchor="middle" fill="#222">150</text>
<line x1="513.6" y1="426.8" x2="685" y2="426.8" stroke="#9a9a9a" stroke-width="1.5"/>
<rect x="528.8" y="358.77" width="12.8" height="67.73" fill="#fff" stroke="#111" stroke-width="0.8"/>
<line x1="535.2" y1="343.6" x2="535.2" y2="373" stroke="#666" stroke-width="0.6"/>
<line x1="534.4" y1="343.6" x2="536" y2="343.6" stroke="#666" stroke-width="0.6"/>
<line x1="534.4" y1="373" x2="536" y2="373" stroke="#666" stroke-width="0.6"/>
<text transform="translate(536.8,429.7) rotate(-90)" font-size="4.72" text-anchor="end" fill="#222">Mock</text>
<rect x="571.6" y="365.54" width="12.8" height="60.96" fill="url(#dots)" stroke="#111" stroke-width="0.8"/>
<line x1="578" y1="359.5" x2="578" y2="370.9" stroke="#666" stroke-width="0.6"/>
<line x1="577.2" y1="359.5" x2="578.8" y2="359.5" stroke="#666" stroke-width="0.6"/>
<line x1="577.2" y1="370.9" x2="578.8" y2="370.9" stroke="#666" stroke-width="0.6"/>
<text transform="translate(579.6,429.7) rotate(-90)" font-size="4.72" text-anchor="end" fill="#222">LED alone group</text>
<rect x="614.2" y="370.08" width="12.8" height="56.42" fill="url(#diag)" stroke="#111" stroke-width="0.8"/>
<line x1="620.6" y1="361.2" x2="620.6" y2="378.5" stroke="#666" stroke-width="0.6"/>
<line x1="619.8" y1="361.2" x2="621.4" y2="361.2" stroke="#666" stroke-width="0.6"/>
<line x1="619.8" y1="378.5" x2="621.4" y2="378.5" stroke="#666" stroke-width="0.6"/>
<text transform="translate(622.2,429.7) rotate(-90)" font-size="4.72" text-anchor="end" fill="#222">Silver alone group</text>
<rect x="657.2" y="363.51" width="12.8" height="62.99" fill="#000" stroke="#111" stroke-width="0.8"/>
<line x1="663.6" y1="345.5" x2="663.6" y2="381.6" stroke="#666" stroke-width="0.6"/>
<line x1="662.8" y1="345.5" x2="664.4" y2="345.5" stroke="#666" stroke-width="0.6"/>
<line x1="662.8" y1="381.6" x2="664.4" y2="381.6" stroke="#666" stroke-width="0.6"/>
<text transform="translate(665.2,429.7) rotate(-90)" font-size="4.72" text-anchor="end" fill="#222">Silver+LED group</text>
<text transform="translate(496.07,375.1) rotate(-90)" font-size="5.22" text-anchor="middle" fill="#222">Cell viability (%)</text>
</svg>
</body></html>
